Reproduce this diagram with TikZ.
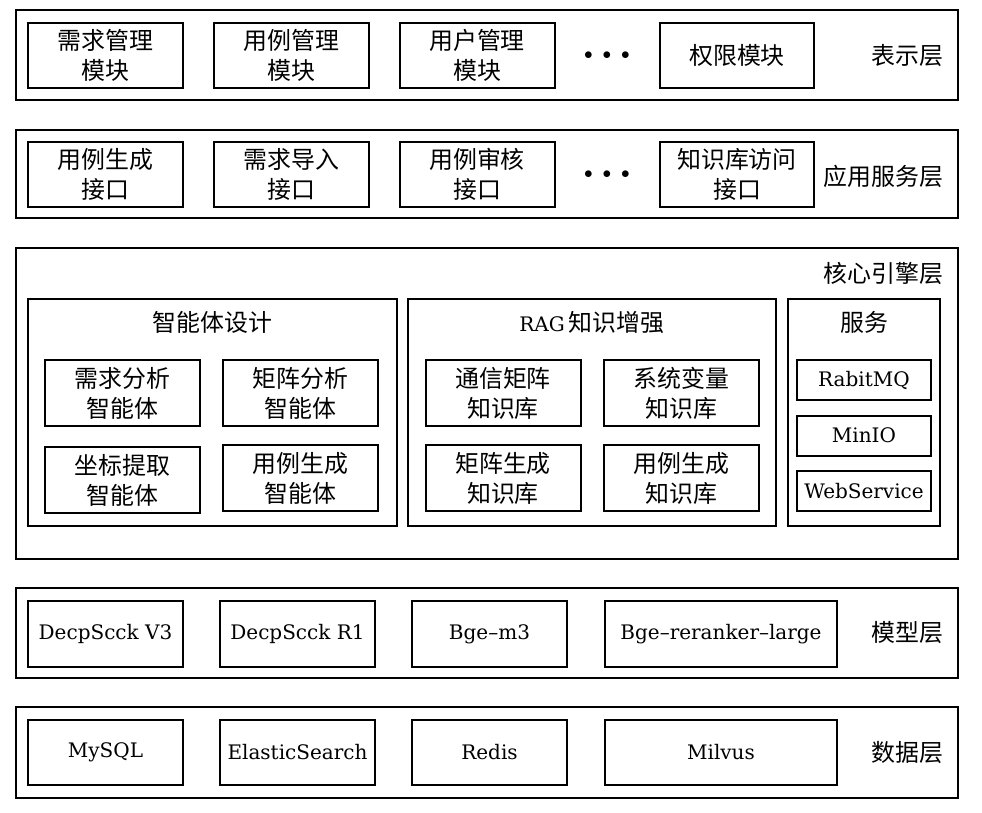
\documentclass[tikz,border=0pt]{standalone}
\usepackage{fontspec}
\setmainfont{DejaVu Serif}
\newfontfamily\cjk[Scale=1.04]{Noto Sans CJK SC}

\begin{document}
\begin{tikzpicture}[x=1pt, y=-1pt,
    layerbox/.style={draw, line width=1.6pt, inner sep=0pt},
    modbox/.style={draw, line width=2pt, minimum width=155, minimum height=65, align=center, inner sep=0pt},
    svcbox/.style={draw, line width=2pt, minimum width=134, minimum height=40, inner sep=0pt},
    laylabel/.style={anchor=east},
    moredots/.style={font=\fontsize{16}{16}\selectfont},
    cn/.style={font=\fontsize{23}{30}\selectfont\cjk},
    en/.style={font=\fontsize{20}{30}\selectfont\rmfamily}]
    \useasboundingbox (0,0) rectangle (982,812);

    % presentation layer
    \node[layerbox, minimum width=942, minimum height=90] (pres) at (487,55) {};
    \node[modbox, cn] (reqmgr) at (105.5,55.5) {需求管理\\模块};
    \node[modbox, cn] (casemgr) at (291.5,55.5) {用例管理\\模块};
    \node[modbox, cn] (usermgr) at (477,55.5) {用户管理\\模块};
    \node[moredots] (presdots) at (607,56) {$\bullet\hspace{6pt}\bullet\hspace{6pt}\bullet$};
    \node[modbox, cn, minimum width=154] (authmod) at (737,55.5) {权限模块};
    \node[laylabel, cn] (preslbl) at (947,56) {表示层};

    % application service layer
    \node[layerbox, minimum width=942, minimum height=88] (app) at (487,174) {};
    \node[modbox, cn] (genapi) at (105.5,174.5) {用例生成\\接口};
    \node[modbox, cn] (impapi) at (291.5,174.5) {需求导入\\接口};
    \node[modbox, cn] (revapi) at (477,174.5) {用例审核\\接口};
    \node[moredots] (appdots) at (607,175) {$\bullet\hspace{6pt}\bullet\hspace{6pt}\bullet$};
    \node[modbox, cn, minimum width=154] (kbapi) at (737,174.5) {知识库访问\\接口};
    \node[laylabel, cn] (applbl) at (947,176) {应用服务层};

    % core engine layer
    \node[layerbox, minimum width=942, minimum height=311] (core) at (487,403.5) {};
    \node[laylabel, cn] (corelbl) at (947,273) {核心引擎层};

    \node[layerbox, minimum width=369, minimum height=227] (agents) at (212.5,412.5) {};
    \node[cn] (agtitle) at (212.5,322) {智能体设计};
    \node[modbox, cn, minimum height=66] (reqag) at (122.5,393) {需求分析\\智能体};
    \node[modbox, cn, minimum height=66] (matag) at (300.5,393) {矩阵分析\\智能体};
    \node[modbox, cn, minimum height=66] (coordag) at (122.5,480) {坐标提取\\智能体};
    \node[modbox, cn, minimum height=66] (caseag) at (300.5,478) {用例生成\\智能体};

    \node[layerbox, minimum width=368, minimum height=227] (rag) at (592,412.5) {};
    \node[cn] (ragtitle) at (592,322) {{\fontsize{20}{30}\selectfont\rmfamily RAG}\,知识增强};
    \node[modbox, cn, minimum height=66] (commkb) at (503,393) {通信矩阵\\知识库};
    \node[modbox, cn, minimum height=66] (varkb) at (681.5,393) {系统变量\\知识库};
    \node[modbox, cn, minimum height=66] (matkb) at (503,478) {矩阵生成\\知识库};
    \node[modbox, cn, minimum height=66] (casekb) at (681.5,478) {用例生成\\知识库};

    \node[layerbox, minimum width=152, minimum height=227] (svc) at (864,412.5) {};
    \node[cn] (svctitle) at (864,322) {服务};
    \node[svcbox, en] (mq) at (864,380) {RabitMQ};
    \node[svcbox, en] (minio) at (864,435.5) {MinIO};
    \node[svcbox, en] (ws) at (864,491) {WebService};

    % model layer
    \node[layerbox, minimum width=942, minimum height=90] (model) at (487,633) {};
    \node[modbox, en, minimum height=66] (dsv3) at (105.5,634) {DecpScck V3};
    \node[modbox, en, minimum height=66] (dsr1) at (297.5,634) {DecpScck R1};
    \node[modbox, en, minimum height=66] (bgem3) at (489.5,634) {Bge–m3};
    \node[modbox, en, minimum height=66, minimum width=232] (rerank) at (721,634) {Bge–reranker–large};
    \node[laylabel, cn] (modellbl) at (947,633) {模型层};

    % data layer
    \node[layerbox, minimum width=942, minimum height=91] (data) at (487,752.5) {};
    \node[modbox, en] (mysql) at (105.5,752.5) {MySQL};
    \node[modbox, en] (es) at (297.5,752.5) {ElasticSearch};
    \node[modbox, en] (redis) at (489.5,752.5) {Redis};
    \node[modbox, en, minimum width=232] (milvus) at (721,752.5) {Milvus};
    \node[laylabel, cn] (datalbl) at (947,752) {数据层};
\end{tikzpicture}
\end{document}
